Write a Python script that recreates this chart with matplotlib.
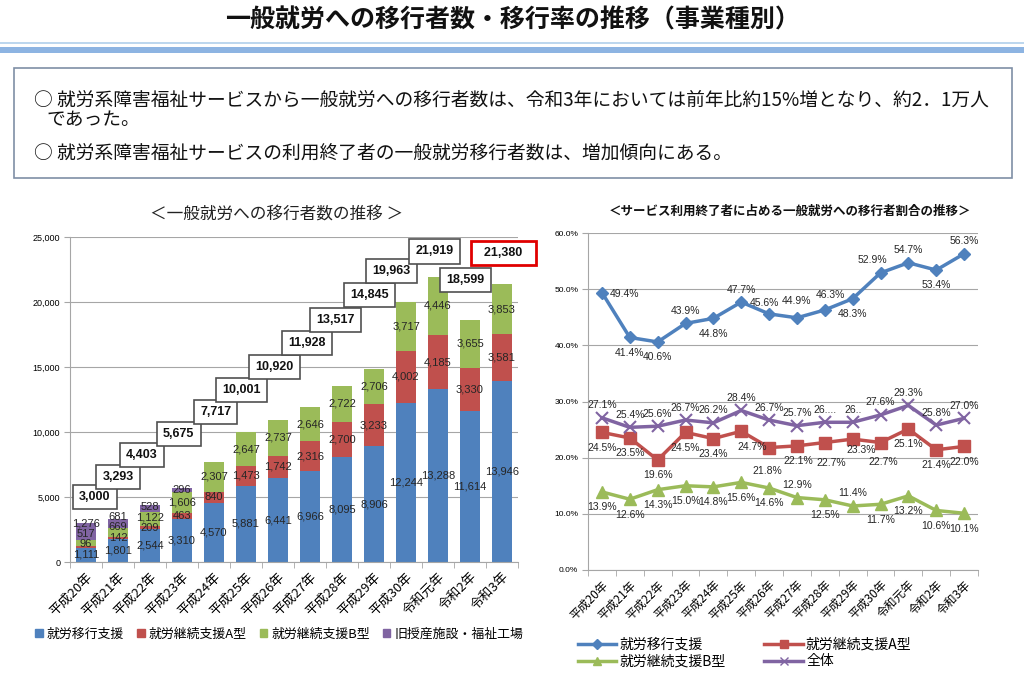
import numpy as np
import matplotlib
matplotlib.use("Agg")
import matplotlib.pyplot as plt
from matplotlib.patches import Rectangle, Patch
from matplotlib.lines import Line2D

plt.rcParams['font.family'] = ['Noto Sans CJK JP', 'DejaVu Sans']

years = ["平成20年", "平成21年", "平成22年", "平成23年", "平成24年", "平成25年", "平成26年",
         "平成27年", "平成28年", "平成29年", "平成30年", "令和元年", "令和2年", "令和3年"]

# 移行者数
ikou = [1111, 1801, 2544, 3310, 4570, 5881, 6441, 6966, 8095, 8906, 12244, 13288, 11614, 13946]
keizoku_a = [96, 142, 209, 463, 840, 1473, 1742, 2316, 2700, 3233, 4002, 4185, 3330, 3581]
keizoku_b = [517, 669, 1122, 1606, 2307, 2647, 2737, 2646, 2722, 2706, 3717, 4446, 3655, 3853]
jusan = [1276, 681, 528, 296, 0, 0, 0, 0, 0, 0, 0, 0, 0, 0]
totals = [3000, 3293, 4403, 5675, 7717, 10001, 10920, 11928, 13517, 14845, 19963, 21919, 18599, 21380]

# 移行率 (%)
rate_ikou = [49.4, 41.4, 40.6, 43.9, 44.8, 47.7, 45.6, 44.9, 46.3, 48.3, 52.9, 54.7, 53.4, 56.3]
rate_a = [24.5, 23.5, 19.6, 24.5, 23.4, 24.7, 21.8, 22.1, 22.7, 23.3, 22.7, 25.1, 21.4, 22.0]
rate_b = [13.9, 12.6, 14.3, 15.0, 14.8, 15.6, 14.6, 12.9, 12.5, 11.4, 11.7, 13.2, 10.6, 10.1]
rate_all = [27.1, 25.4, 25.6, 26.7, 26.2, 28.4, 26.7, 25.7, 26.3, 26.3, 27.6, 29.3, 25.8, 27.0]
rate_all_text = ["27.1%", "25.4%", "25.6%", "26.7%", "26.2%", "28.4%", "26.7%", "25.7%",
                 "26....", "26..", "27.6%", "29.3%", "25.8%", "27.0%"]

bar_names = ["就労移行支援", "就労継続支援A型", "就労継続支援B型", "旧授産施設・福祉工場"]
line_names = ["就労移行支援", "就労継続支援A型", "就労継続支援B型", "全体"]
colors = ["#4F81BD", "#C0504D", "#9BBB59", "#8064A2"]

# total box placement (x offset from bar, y in data units)
box_dx = [0.28, 0.0, -0.25, -0.1, 0.05, -0.15, -0.1, -0.1, -0.2, -0.15, -0.45, -0.1, -0.15, 0.05]
box_y = [5000, 6540, 8230, 9850, 11540, 13230, 15000, 16840, 18610, 20530, 22380, 23900, 21690, 23760]

# label offsets (points) for the line chart
A, B = (0, 9), (0, -11)
pos_ikou = [(16, -1), B, B, A, B, A, (-3, 8), (0, 12), (4, 11), B, (-6, 9), A, B, A]
pos_a = [B, B, B, B, B, (8, -11), (-1, -17), (1, -11), (5, -15), (6, -8), (2, -14), B, B, B]
pos_b = [B, B, B, B, B, B, B, A, B, A, B, B, B, B]
pos_all = [A] * 14

fig = plt.figure(figsize=(10.24, 6.74), dpi=100)

# ---- header ----
fig.text(0.5, 1 - 20 / 674, "一般就労への移行者数・移行率の推移（事業種別）",
         ha="center", va="center", fontsize=18, fontweight="bold", color="#111111")
fig.add_artist(Rectangle((0, 1 - 44 / 674), 1, 2 / 674, transform=fig.transFigure,
                         color="#BDD7EE", lw=0))
fig.add_artist(Rectangle((0, 1 - 53 / 674), 1, 6 / 674, transform=fig.transFigure,
                         color="#8DB4E2", lw=0))
fig.add_artist(Rectangle((14 / 1024, 1 - 178 / 674), 998 / 1024, 110 / 674,
                         transform=fig.transFigure, fill=False, ec="#7F8FA6", lw=1.2))
fig.text(34 / 1024, 1 - 100 / 674,
         "○ 就労系障害福祉サービスから一般就労への移行者数は、令和3年においては前年比約15%増となり、約2．1万人",
         ha="left", va="center", fontsize=13.5, color="#111111")
fig.text(46 / 1024, 1 - 119 / 674, "であった。", ha="left", va="center", fontsize=13.5,
         color="#111111")
fig.text(34 / 1024, 1 - 153 / 674, "○ 就労系障害福祉サービスの利用終了者の一般就労移行者数は、増加傾向にある。",
         ha="left", va="center", fontsize=13.5, color="#111111")

# ---- bar chart ----
ax1 = fig.add_axes([70 / 1024, 1 - 562 / 674, 448 / 1024, 325 / 674])
x = np.arange(len(years))
series = [ikou, keizoku_a, keizoku_b, jusan]
bottom = np.zeros(len(years))
label_y_prev = np.full(len(years), -1e9)
for vals, c in zip(series, colors):
    vals = np.array(vals, dtype=float)
    ax1.bar(x, vals, 0.63, bottom=bottom, color=c, zorder=2)
    for i, v in enumerate(vals):
        if v <= 0:
            continue
        yc = bottom[i] + v / 2
        if i < 4:
            yc = max(yc, label_y_prev[i] + 800)
        label_y_prev[i] = yc
        ax1.text(x[i], yc, f"{int(v):,}", ha="center", va="center", fontsize=8,
                 family="Liberation Sans", color="#262626", zorder=4)
    bottom += vals

for i, t in enumerate(totals):
    red = i == len(totals) - 1
    ax1.text(x[i] + box_dx[i], box_y[i], f"{t:,}" if not red else f"  {t:,}  ",
             ha="center", va="center", fontsize=9, fontweight="bold",
             family="Liberation Sans", color="#111111", zorder=5,
             bbox=dict(boxstyle="square,pad=0.5", fc="white",
                       ec="#E00000" if red else "#505050", lw=2 if red else 1.2))

ax1.set_xlim(-0.5, len(years) - 0.5)
ax1.set_ylim(0, 25000)
ax1.set_yticks(np.arange(0, 25001, 5000))
ax1.set_yticklabels([f"{v:,}" for v in range(0, 25001, 5000)], fontsize=6.5,
                    family="Liberation Sans")
ax1.yaxis.grid(True, color="#A6A6A6", lw=0.8, zorder=0)
ax1.set_xticks(x)
ax1.set_xticklabels(years, rotation=45, ha="right", rotation_mode="anchor", fontsize=9.5)
ax1.set_xticks(np.arange(len(years) + 1) - 0.5, minor=True)
ax1.tick_params(axis="x", which="major", length=0, pad=6)
ax1.tick_params(axis="x", which="minor", length=4, color="#A6A6A6")
ax1.tick_params(axis="y", length=4, color="#A6A6A6", pad=3)
for s in ["top", "right"]:
    ax1.spines[s].set_visible(False)
ax1.spines["left"].set_color("#A6A6A6")
ax1.spines["bottom"].set_color("#A6A6A6")

fig.text(277 / 1024, 1 - 214 / 674, "＜一般就労への移行者数の推移 ＞", ha="center",
         va="center", fontsize=12, color="#222222")
handles = [Patch(color=c) for c in colors]
fig.legend(handles, bar_names, loc="center left", bbox_to_anchor=(30 / 1024, 1 - 634 / 674),
           ncol=4, frameon=False, fontsize=9.3, handlelength=0.6, handleheight=0.6,
           handletextpad=0.3, columnspacing=1.0, borderaxespad=0)

# ---- line chart ----
ax2 = fig.add_axes([588 / 1024, 1 - 570 / 674, 390 / 1024, 337 / 674])
markers = ["D", "s", "^", "x"]
msizes = [6, 8, 8, 8]
line_series = [rate_ikou, rate_a, rate_b, rate_all]
positions = [pos_ikou, pos_a, pos_b, pos_all]
for k, (vals, c, m, ms, pos) in enumerate(zip(line_series, colors, markers, msizes, positions)):
    ax2.plot(x, vals, color=c, lw=2.5, marker=m, ms=ms, mew=1.5 if m == "x" else 1,
             zorder=3)
    for i, v in enumerate(vals):
        txt = rate_all_text[i] if k == 3 else f"{v:.1f}%"
        ax2.annotate(txt, (x[i], v), xytext=pos[i], textcoords="offset points",
                     ha="center", va="center", fontsize=7.5, family="Liberation Sans",
                     color="#262626", zorder=4)

ax2.set_xlim(-0.5, len(years) - 0.5)
ax2.set_ylim(0, 60)
ax2.set_yticks(np.arange(0, 61, 10))
ax2.set_yticklabels([f"{v:.1f}%" for v in range(0, 61, 10)], fontsize=6,
                    family="Liberation Sans")
ax2.yaxis.grid(True, color="#A6A6A6", lw=0.8, zorder=0)
ax2.set_xticks(x)
ax2.set_xticklabels(years, rotation=45, ha="right", rotation_mode="anchor", fontsize=8.5)
ax2.set_xticks(np.arange(len(years) + 1) - 0.5, minor=True)
ax2.tick_params(axis="x", which="major", length=0, pad=6)
ax2.tick_params(axis="x", which="minor", length=4, color="#A6A6A6")
ax2.tick_params(axis="y", length=4, color="#A6A6A6", pad=3)
for s in ["top", "right"]:
    ax2.spines[s].set_visible(False)
ax2.spines["left"].set_color("#A6A6A6")
ax2.spines["bottom"].set_color("#A6A6A6")

fig.text(790 / 1024, 1 - 211 / 674, "＜サービス利用終了者に占める一般就労への移行者割合の推移＞",
         ha="center", va="center", fontsize=9, fontweight="bold", color="#111111")
lh = [Line2D([0], [0], color=c, lw=2.5, marker=m, ms=ms * 0.8)
      for c, m, ms in zip(colors, markers, msizes)]
order = [0, 2, 1, 3]
fig.legend([lh[i] for i in order], [line_names[i] for i in order], loc="center left",
           bbox_to_anchor=(572 / 1024, 1 - 653 / 674), ncol=2, frameon=False, fontsize=10,
           handlelength=2.8, handletextpad=0.2, columnspacing=2.8, labelspacing=0.2,
           borderaxespad=0)

fig.savefig("out.png", dpi=100)
